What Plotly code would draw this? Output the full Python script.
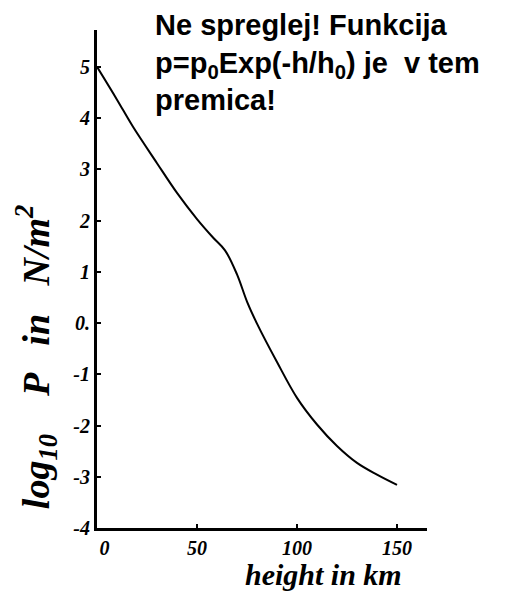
import plotly.graph_objects as go

# data
height_km = [0, 10, 18, 30, 40, 50, 58, 64, 70, 75, 80, 90, 100, 110, 120, 130, 140, 150]
log10_p = [5.0, 4.36, 3.83, 3.12, 2.54, 2.03, 1.67, 1.42, 0.95, 0.42, -0.01, -0.76, -1.46, -1.98, -2.4, -2.73, -2.96, -3.16]

y_ticks = [-4, -3, -2, -1, 0, 1, 2, 3, 4, 5]
y_ticktext = ["-4", "-3", "-2", "-1", "0.", "1", "2", "3", "4", "5"]
x_ticks = [0, 50, 100, 150]
x_ticktext = ["\u00a0\u00a0\u00a00", "50", "100", "150"]

note_text = ("Ne spreglej! Funkcija<br>p=p<sub>0</sub>Exp(-h/h<sub>0</sub>) je  v tem<br>premica!")
y_title = "log<sub>10</sub>    P   in   N/m<sup>2</sup>"
x_title = "height in km"

hand = dict(family="Liberation Serif", color="black", style="italic", weight="bold")

fig = go.Figure()
fig.add_trace(go.Scatter(x=height_km, y=log10_p, mode="lines",
                         line=dict(color="black", width=2, shape="spline", smoothing=1.0),
                         hoverinfo="skip", showlegend=False))

fig.update_layout(
    width=509, height=584,
    margin=dict(l=89, r=90, t=22, b=64, autoexpand=False),
    paper_bgcolor="white", plot_bgcolor="white",
    showlegend=False,
    xaxis=dict(range=[0, 165], tickvals=x_ticks, ticktext=x_ticktext,
               showgrid=False, zeroline=False, showline=True, linecolor="black", linewidth=3,
               ticks="inside", ticklen=4, tickwidth=2, tickcolor="black", automargin=False,
               tickfont=dict(size=20, **hand), ticklabelstandoff=0),
    yaxis=dict(range=[-4, 5.72], tickvals=y_ticks, ticktext=y_ticktext,
               showgrid=False, zeroline=False, showline=True, linecolor="black", linewidth=3,
               ticks="inside", ticklen=4, tickwidth=2, tickcolor="black", automargin=False,
               tickfont=dict(size=20, **hand), ticklabelstandoff=0),
    annotations=[
        dict(text=note_text, xref="paper", yref="paper", x=0.170, y=1.046,
             xanchor="left", yanchor="top", align="left", showarrow=False,
             font=dict(family="Liberation Sans", size=29, color="black", weight="bold")),
        dict(text=y_title, xref="paper", yref="paper", x=-0.185, y=0.345,
             xanchor="center", yanchor="middle", textangle=-90, showarrow=False,
             font=dict(size=38, **hand)),
        dict(text=x_title, xref="paper", yref="paper", x=0.685, y=-0.094,
             xanchor="center", yanchor="middle", showarrow=False,
             font=dict(size=30, **hand)),
    ],
    shapes=[
        dict(type="line", xref="x", yref="y", x0=-13, y0=-4.6, x1=0, y1=-4.0,
             line=dict(color="black", width=3)),
    ],
)

fig.write_html("out.html")
